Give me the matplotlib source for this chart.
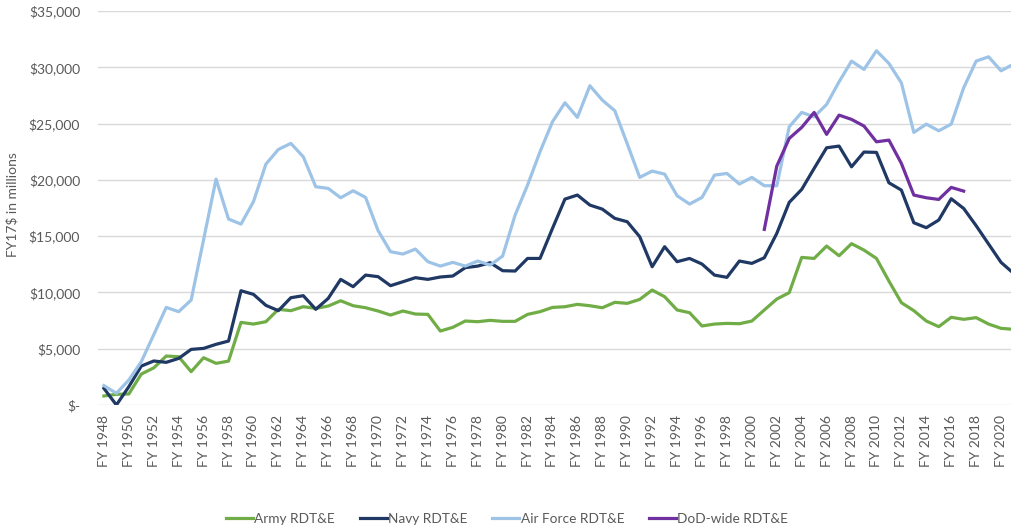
import matplotlib
matplotlib.use("Agg")
import matplotlib.pyplot as plt
from matplotlib.ticker import FuncFormatter

years = list(range(1948, 2022))

army = [800, 950, 980, 2750, 3300, 4350, 4290, 2960, 4200, 3700, 3900, 7340, 7190, 7400,
        8500, 8380, 8730, 8580, 8790, 9260, 8820, 8640, 8350, 7990, 8350, 8080, 8050,
        6570, 6900, 7460, 7400, 7520, 7430, 7430, 8050, 8290, 8670, 8730, 8940, 8820,
        8640, 9120, 9030, 9380, 10210, 9620, 8440, 8200, 7020, 7190, 7250, 7220, 7460,
        8440, 9410, 9980, 13110, 13020, 14120, 13260, 14330, 13760, 13020, 11010, 9090,
        8380, 7460, 6960, 7790, 7610, 7760, 7190, 6810, 6720]

navy = [1480, 0, 1630, 3460, 3910, 3790, 4140, 4940, 5030, 5390, 5680, 10150, 9830, 8850,
        8380, 9530, 9710, 8500, 9470, 11160, 10510, 11540, 11400, 10600, 10950, 11310,
        11160, 11370, 11460, 12200, 12340, 12640, 11930, 11900, 13020, 13020, 15690,
        18290, 18650, 17760, 17400, 16580, 16280, 14950, 12280, 14060, 12730, 13020,
        12520, 11540, 11340, 12790, 12580, 13080, 15240, 18000, 19150, 21020, 22850,
        23000, 21160, 22470, 22440, 19740, 19090, 16190, 15750, 16430, 18320, 17460,
        15930, 14300, 12670, 11700]

air_force = [1720, 1040, 2220, 3850, 6250, 8670, 8290, 9320, 14700, 20070, 16520, 16070,
             18060, 21400, 22700, 23240, 22050, 19390, 19240, 18410, 19030, 18440, 15500,
             13620, 13410, 13850, 12730, 12340, 12670, 12340, 12790, 12430, 13230, 16870,
             19540, 22500, 25160, 26850, 25550, 28360, 27080, 26140, 23200, 20220, 20780,
             20510, 18590, 17850, 18440, 20420, 20570, 19630, 20220, 19480, 19480, 24720,
             25990, 25600, 26700, 28710, 30550, 29810, 31470, 30340, 28620, 24210, 24950,
             24360, 24950, 28180, 30550, 30930, 29690, 30280]

dod_years = list(range(2001, 2018))
dod_wide = [15600, 21220, 23680, 24660, 25990, 24040, 25750, 25370, 24780, 23380, 23530,
            21460, 18650, 18410, 18260, 19330, 19000]

tick_years = list(range(1948, 2021, 2))
tick_labels = [f"FY {y}" for y in tick_years]

series_names = ["Army RDT&E", "Navy RDT&E", "Air Force RDT&E", "DoD-wide RDT&E"]
colors = ["#70AD47", "#1F3864", "#9DC3E6", "#7030A0"]

plt.rcParams['font.family'] = ['Lato', 'DejaVu Sans']

fig = plt.figure(figsize=(10.11, 5.31), dpi=100)
ax = fig.add_axes([97.7 / 1011, (531 - 405) / 531, 1 - 97.7 / 1011, (405 - 11) / 531])

lw = 2.3
ax.plot(years, army, color=colors[0], lw=lw, label=series_names[0], solid_joinstyle='round')
ax.plot(years, navy, color=colors[1], lw=lw, label=series_names[1], solid_joinstyle='round')
ax.plot(years, air_force, color=colors[2], lw=lw, label=series_names[2], solid_joinstyle='round')
ax.plot(dod_years, dod_wide, color=colors[3], lw=lw, label=series_names[3], solid_joinstyle='round')

ax.set_xlim(1947.5, 1947.5 + (1011 - 97.7) / 12.46)
ax.set_ylim(0, 35000)
ax.set_yticks(range(0, 35001, 5000))
ax.yaxis.set_major_formatter(FuncFormatter(lambda v, p: "$-" if v == 0 else f"${int(v):,}"))
ax.set_xticks(tick_years)
ax.set_xticklabels(tick_labels, rotation=90)

ax.grid(axis='y', color='#D9D9D9', lw=1)
ax.set_axisbelow(True)
for s in ax.spines.values():
    s.set_visible(False)
ax.tick_params(axis='both', length=0, colors='#595959', labelsize=10)
ax.tick_params(axis='y', pad=12.7)
ax.tick_params(axis='x', pad=7)

fig.text(12 / 1011, 1 - 205 / 531, "FY17$ in millions", rotation=90, ha='center', va='center',
         color='#595959', fontsize=10)

leg = fig.legend(loc='center', bbox_to_anchor=(507 / 1011, 1 - 519 / 531), ncol=4, frameon=False,
                 fontsize=9.8, handlelength=2.0, handletextpad=0.1, columnspacing=1.8)
for t in leg.get_texts():
    t.set_color('#595959')

fig.savefig("out.png", dpi=100)
